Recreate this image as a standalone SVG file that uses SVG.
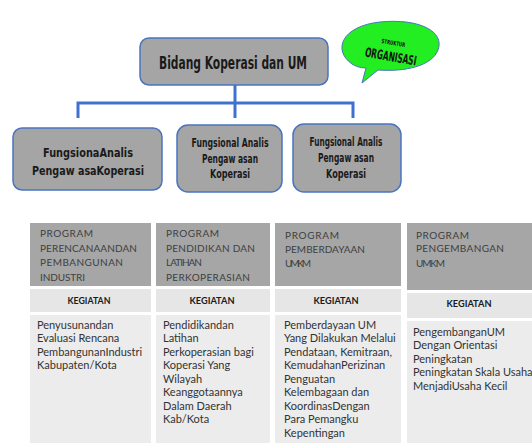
<svg xmlns="http://www.w3.org/2000/svg" width="532" height="448" viewBox="0 0 532 448">
  <style>
    .node { fill: #a5a5a5; stroke: #4a74c0; stroke-width: 1.5; }
    .ttl { font-family: "DejaVu Sans", "Liberation Sans", sans-serif; font-weight: bold; fill: #1a1a1a; text-anchor: middle; }
    .link { fill: none; stroke: #3f72d0; stroke-width: 3; stroke-linecap: butt; }
    .hd { fill: #a6a6a6; }
    .kg { fill: #e6e6e6; }
    .bd { fill: #ececec; }
    .hdt { font-family: "Lato", "Liberation Sans", sans-serif; font-size: 10px; fill: #404040; }
    .kgt { font-family: "Lato", "Liberation Sans", sans-serif; font-size: 10px; font-weight: bold; fill: #1a1a1a; text-anchor: middle; }
    .bdt { font-family: "Lato", "Liberation Sans", sans-serif; font-size: 11px; fill: #333333; }
  </style>
  <rect width="532" height="448" fill="#ffffff"/>

  <!-- connectors of the chart -->
  <g id="connectors">
    <path class="link" d="M235 85 V103 M78 118 V103 H353 V118 M235 103 V118"/>
  </g>

  <!-- head of the unit -->
  <g id="head">
    <rect class="node" x="140" y="38" width="188" height="47" rx="9"/>
    <text class="ttl" x="233" y="69" font-size="18" textLength="148" lengthAdjust="spacingAndGlyphs">Bidang Koperasi  dan UM</text>
  </g>

  <!-- callout bubble -->
  <g id="callout">
    <path d="M352 64 C332 50 342 26 380 22 C420 18 445 32 438 50 C432 66 405 72 378 70 L362 83 L366 68 C360 68 355 66 352 64 Z" fill="#22ee22" stroke="#4a74c0" stroke-width="1"/>
    <text x="393" y="45" font-family="DejaVu Sans, sans-serif" font-size="6" font-weight="bold" fill="#111" text-anchor="middle" transform="rotate(10 393 45)" textLength="24" lengthAdjust="spacingAndGlyphs">STRUKTUR</text>
    <text x="390" y="61" font-family="DejaVu Sans, sans-serif" font-size="13" font-weight="bold" fill="#111" text-anchor="middle" transform="rotate(10 390 61)" textLength="52" lengthAdjust="spacingAndGlyphs">ORGANISASI</text>
  </g>

  <!-- functional positions -->
  <g id="fungsional-1">
    <rect class="node" x="13" y="128" width="149" height="62" rx="9"/>
    <text class="ttl" x="88" y="157" font-size="13" textLength="90" lengthAdjust="spacingAndGlyphs">FungsionaAnalis</text>
    <text class="ttl" x="88" y="175" font-size="13" textLength="112" lengthAdjust="spacingAndGlyphs">Pengaw asaKoperasi</text>
  </g>
  <g id="fungsional-2">
    <rect class="node" x="177" y="125" width="105" height="67" rx="11"/>
    <text class="ttl" x="230" y="147" font-size="13" textLength="77" lengthAdjust="spacingAndGlyphs">Fungsional  Analis</text>
    <text class="ttl" x="230" y="163" font-size="13" textLength="56" lengthAdjust="spacingAndGlyphs">Pengaw asan</text>
    <text class="ttl" x="230" y="178" font-size="13" textLength="40" lengthAdjust="spacingAndGlyphs">Koperasi</text>
  </g>
  <g id="fungsional-3">
    <rect class="node" x="293" y="124" width="108" height="68" rx="11"/>
    <text class="ttl" x="346" y="146" font-size="13" textLength="73" lengthAdjust="spacingAndGlyphs">Fungsional  Analis</text>
    <text class="ttl" x="346" y="162" font-size="13" textLength="56" lengthAdjust="spacingAndGlyphs">Pengaw asan</text>
    <text class="ttl" x="346" y="178" font-size="13" textLength="40" lengthAdjust="spacingAndGlyphs">Koperasi</text>
  </g>

  <!-- program table: column 1 -->
  <g id="program-1">
    <rect class="hd" x="30" y="223" width="121" height="63"/>
    <rect class="kg" x="30" y="289" width="121" height="23"/>
    <rect class="bd" x="30" y="315" width="121" height="128"/>
    <text class="hdt" x="40" y="237" textLength="53">PROGRAM</text>
    <text class="hdt" x="40" y="252" textLength="97">PERENCANAANDAN</text>
    <text class="hdt" x="40" y="266" textLength="83">PEMBANGUNAN</text>
    <text class="hdt" x="40" y="281" textLength="45">INDUSTRI</text>
    <text class="kgt" x="89" y="304" textLength="43" lengthAdjust="spacingAndGlyphs">KEGIATAN</text>
    <text class="bdt" x="37" y="329">Penyusunandan</text>
    <text class="bdt" x="37" y="342">Evaluasi Rencana</text>
    <text class="bdt" x="37" y="356">PembangunanIndustri</text>
    <text class="bdt" x="37" y="369">Kabupaten/Kota</text>
  </g>

  <!-- program table: column 2 -->
  <g id="program-2">
    <rect class="hd" x="156" y="223" width="114" height="63"/>
    <rect class="kg" x="156" y="289" width="114" height="23"/>
    <rect class="bd" x="156" y="315" width="114" height="128"/>
    <text class="hdt" x="166" y="237" textLength="53">PROGRAM</text>
    <text class="hdt" x="166" y="252" textLength="89">PENDIDIKAN DAN</text>
    <text class="hdt" x="166" y="266" textLength="36">LATIHAN</text>
    <text class="hdt" x="166" y="281" textLength="84">PERKOPERASIAN</text>
    <text class="kgt" x="212" y="304" textLength="45" lengthAdjust="spacingAndGlyphs">KEGIATAN</text>
    <text class="bdt" x="163" y="329">Pendidikandan</text>
    <text class="bdt" x="163" y="342">Latihan</text>
    <text class="bdt" x="163" y="356">Perkoperasian bagi</text>
    <text class="bdt" x="163" y="369">Koperasi Yang</text>
    <text class="bdt" x="163" y="383">Wilayah</text>
    <text class="bdt" x="163" y="396">Keanggotaannya</text>
    <text class="bdt" x="163" y="410">Dalam Daerah</text>
    <text class="bdt" x="163" y="423">Kab/Kota</text>
  </g>

  <!-- program table: column 3 -->
  <g id="program-3">
    <rect class="hd" x="275" y="223" width="126" height="63"/>
    <rect class="kg" x="275" y="289" width="126" height="23"/>
    <rect class="bd" x="275" y="315" width="126" height="128"/>
    <text class="hdt" x="285" y="239" textLength="54">PROGRAM</text>
    <text class="hdt" x="285" y="253" textLength="80">PEMBERDAYAAN</text>
    <text class="hdt" x="285" y="267" textLength="26">UMKM</text>
    <text class="kgt" x="336" y="304" textLength="45" lengthAdjust="spacingAndGlyphs">KEGIATAN</text>
    <text class="bdt" x="284" y="329">Pemberdayaan UM</text>
    <text class="bdt" x="284" y="342">Yang Dilakukan Melalui</text>
    <text class="bdt" x="284" y="356">Pendataan, Kemitraan,</text>
    <text class="bdt" x="284" y="369">KemudahanPerizinan</text>
    <text class="bdt" x="284" y="383">Penguatan</text>
    <text class="bdt" x="284" y="396">Kelembagaan dan</text>
    <text class="bdt" x="284" y="410">KoordinasDengan</text>
    <text class="bdt" x="284" y="423">Para Pemangku</text>
    <text class="bdt" x="284" y="437">Kepentingan</text>
  </g>

  <!-- program table: column 4 -->
  <g id="program-4">
    <rect class="hd" x="407" y="223" width="125" height="67"/>
    <rect class="kg" x="407" y="293" width="125" height="25"/>
    <rect class="bd" x="407" y="321" width="125" height="122"/>
    <text class="hdt" x="416" y="239" textLength="53">PROGRAM</text>
    <text class="hdt" x="416" y="252" textLength="88">PENGEMBANGAN</text>
    <text class="hdt" x="416" y="267" textLength="29">UMKM</text>
    <text class="kgt" x="469" y="307" textLength="45" lengthAdjust="spacingAndGlyphs">KEGIATAN</text>
    <text class="bdt" x="413" y="336">PengembanganUM</text>
    <text class="bdt" x="413" y="349">Dengan Orientasi</text>
    <text class="bdt" x="413" y="363">Peningkatan</text>
    <text class="bdt" x="413" y="376">Peningkatan Skala Usaha</text>
    <text class="bdt" x="413" y="390">MenjadiUsaha Kecil</text>
  </g>
</svg>
